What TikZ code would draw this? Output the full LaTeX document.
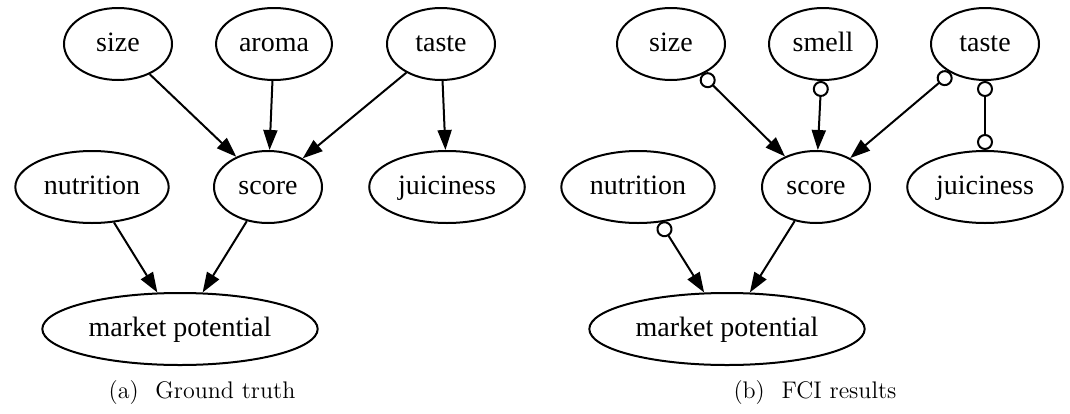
\documentclass[tikz,border=0pt]{standalone}
\usepackage{fontspec}
\newfontfamily\graphfont{Liberation Serif}
\usetikzlibrary{arrows.meta, shapes.geometric}

\begin{document}
\begin{tikzpicture}[x=0.5pt, y=-0.5pt, line width=1pt,
    var/.style={ellipse, draw, line width=1pt, inner xsep=3pt, inner ysep=6.2pt, text height=10pt, text depth=3pt, minimum width=54pt, minimum height=36pt, font=\graphfont\fontsize{14}{16}\selectfont},
    cause/.style={-{Triangle[length=10pt, width=7pt]}},
    ocause/.style={{Circle[open, length=8pt, width=8pt]}-{Triangle[length=10pt, width=7pt]}},
    oo/.style={{Circle[open, length=8pt, width=8pt]}-{Circle[open, length=8pt, width=8pt]}},
    subcap/.style={font=\fontsize{12}{14}\selectfont}]
            \useasboundingbox (0, 0) rectangle (1070, 413);

            % (a) ground truth
            \node[var] at (118, 44)  (sizeA)  {size};
            \node[var] at (274, 44)  (aroma)  {aroma};
            \node[var] at (441, 44)  (tasteA) {taste};
            \node[var] at (92, 187)  (nutrA)  {nutrition};
            \node[var] at (268, 187) (scoreA) {score};
            \node[var] at (447, 187) (juicyA) {juiciness};
            \node[var] at (180, 329) (marketA) {market potential};
            
            \draw [cause] (sizeA) -- (scoreA);
            \draw [cause] (aroma) -- (scoreA);
            \draw [cause] (tasteA) -- (scoreA);
            \draw [cause] (tasteA) -- (juicyA);
            \draw [cause] (nutrA) -- (marketA);
            \draw [cause] (scoreA) -- (marketA);

            \node[subcap] at (202, 393) (capA) {(a)\hspace{0.7em}Ground truth};

            % (b) FCI results
            \node[var] at (671, 44)  (sizeB)  {size};
            \node[var] at (823, 44)  (smell)  {smell};
            \node[var] at (985, 44)  (tasteB) {taste};
            \node[var] at (638, 187) (nutrB)  {nutrition};
            \node[var] at (816, 187) (scoreB) {score};
            \node[var] at (985, 187) (juicyB) {juiciness};
            \node[var] at (727, 329) (marketB) {market potential};
            
            \draw [ocause] (sizeB) -- (scoreB);
            \draw [ocause] (smell) -- (scoreB);
            \draw [ocause] (tasteB) -- (scoreB);
            \draw [oo] (tasteB) -- (juicyB);
            \draw [ocause] (nutrB) -- (marketB);
            \draw [cause] (scoreB) -- (marketB);

            \node[subcap] at (815, 393) (capB) {(b)\hspace{0.7em}FCI results};
        \end{tikzpicture}
\end{document}
